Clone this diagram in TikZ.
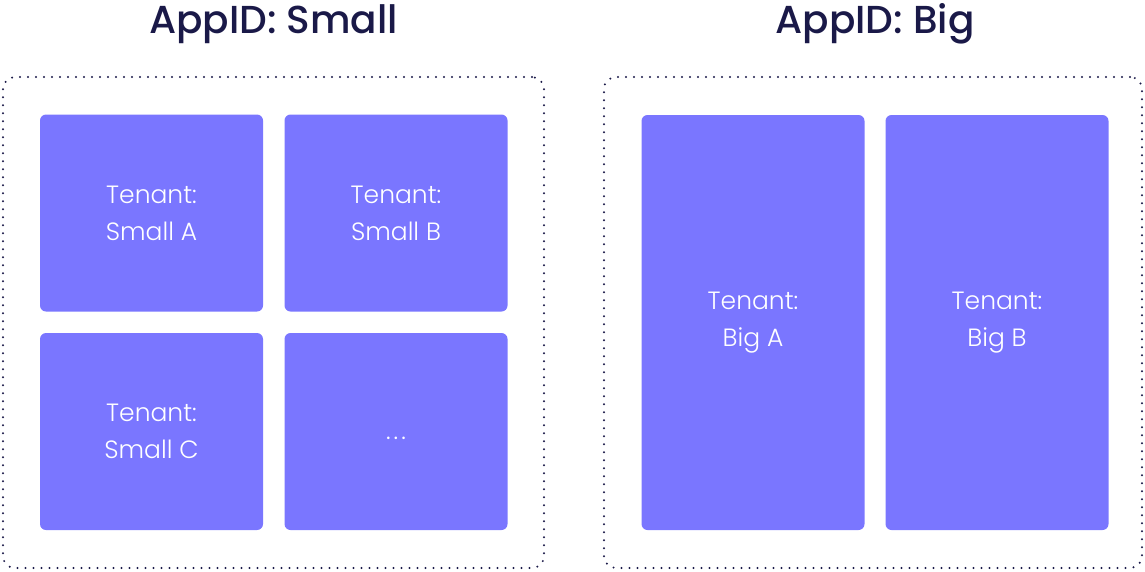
\documentclass[tikz,border=0pt]{standalone}
\usepackage{fontspec}
\setmainfont{Poppins}
\newfontfamily\headfont{Poppins}[UprightFont=* Medium]
\newfontfamily\tilefont{Poppins}[UprightFont=* Light]
\usetikzlibrary{positioning}

\definecolor{tilefill}{HTML}{7A76FF}
\definecolor{ink}{HTML}{1A1948}

\begin{document}
\begin{tikzpicture}[x=1pt,y=-1pt,
  tenant/.style={fill=tilefill, rounded corners=6pt, inner sep=0pt,
    minimum width=223pt, minimum height=197pt, text=white, align=center,
    font=\tilefont\fontsize{25}{37}\selectfont},
  appbox/.style={draw=ink, line width=2.2pt, line cap=round,
    dash pattern=on 0pt off 8pt, rounded corners=12pt, inner sep=0pt},
  apptitle/.style={text=ink, anchor=base, font=\headfont\fontsize{39}{44}\selectfont}]
\useasboundingbox (0,0) rectangle (1145,571);

% the two app groups
\node[appbox, minimum width=541pt, minimum height=491pt] (smallapp) at (273.5,322.5) {};
\node[appbox, minimum width=538pt, minimum height=491pt] (bigapp) at (873,322.5) {};
\node[apptitle] (smalltitle) at (273.5,33) {AppID: Small};
\node[apptitle] (bigtitle) at (875,33) {AppID: Big};

% tenants in the small app
\node[tenant] (smalla) at (151.5,213) {Tenant:\\Small A};
\node[tenant] (smallb) at (396,213) {Tenant:\\Small B};
\node[tenant] (smallc) at (151.5,431.5) {Tenant:\\Small C};
\node[tenant] (more) at (396,431.5) {\raisebox{-8pt}[0pt][0pt]{.\hspace{3pt}.\hspace{3pt}.}};

% tenants in the big app
\node[tenant, minimum height=415pt] (biga) at (753,322.5) {Tenant:\\Big A};
\node[tenant, minimum height=415pt] (bigb) at (997,322.5) {Tenant:\\Big B};
\end{tikzpicture}
\end{document}
